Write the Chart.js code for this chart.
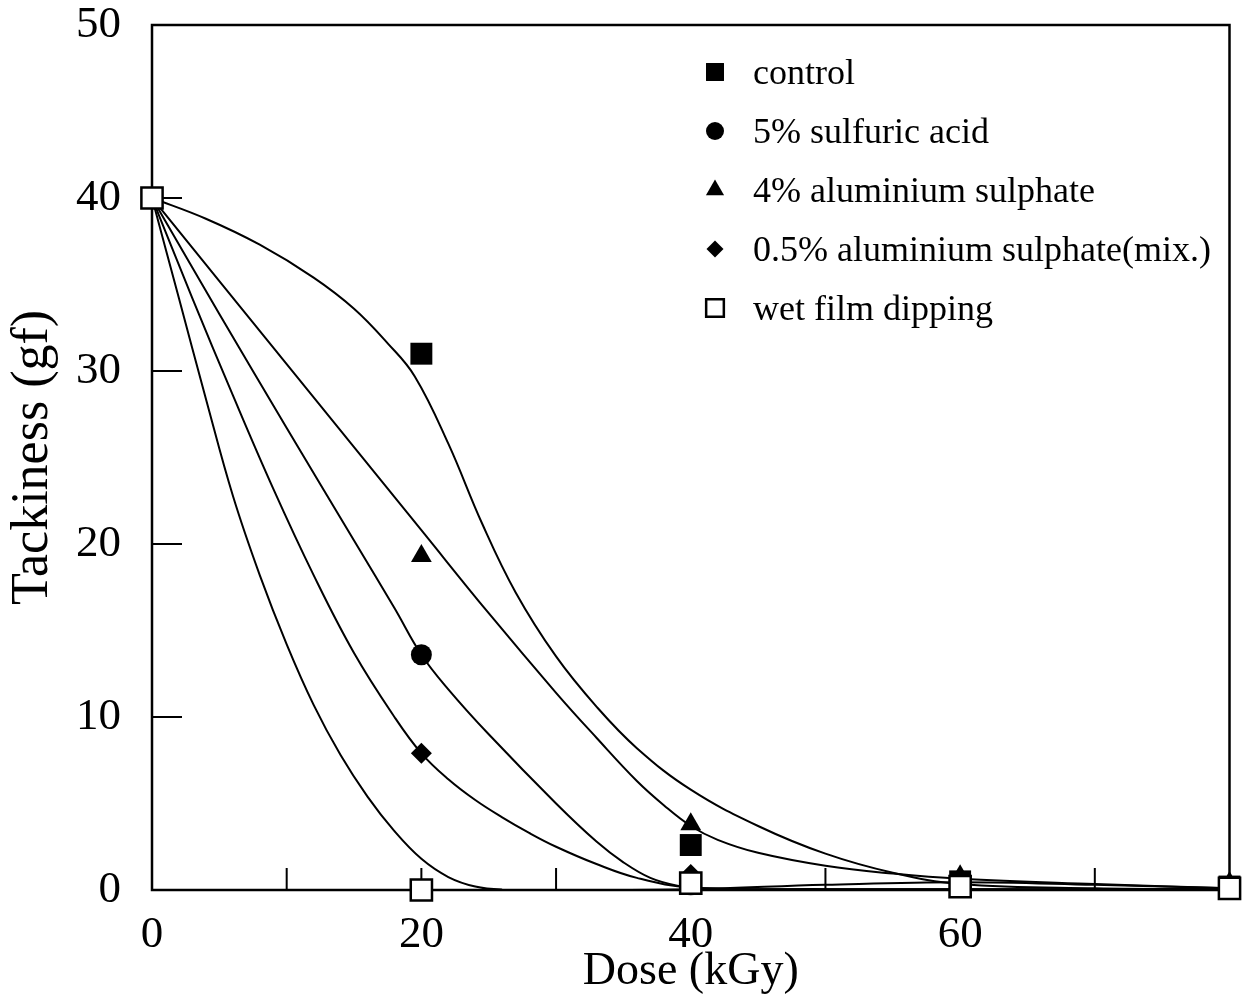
<!DOCTYPE html>
<html>
<head>
<meta charset="utf-8">
<title>Tackiness vs dose</title>
<script src="https://cdn.jsdelivr.net/npm/chart.js@4.4.1/dist/chart.umd.min.js"></script>
<style>
  html, body { margin: 0; padding: 0; background: #fff; }
  #wrap { width: 1247px; height: 1004px; }
</style>
</head>
<body>
<div id="wrap"><canvas id="chart"></canvas></div>
<script>
// --- data ---
const doses = [0, 20, 40, 60, 80];
const seriesNames = ['control', '5% sulfuric acid', '4% aluminium sulphate', '0.5% aluminium sulphate(mix.)', 'wet film dipping'];

const controlVals  = [40, 31.0, 2.6, 0.5, 0.2];
const sulfuricVals = [40, 13.6, 0.3, 0.2, 0.1];
const alum4Vals    = [40, 19.3, 3.8, 0.8, 0.4];
const alumMixVals  = [40, 7.9, 0.9, 0.4, 0.2];
const wetFilmVals  = [40, 0.0, 0.4, 0.2, 0.1];

// fitted curves (dose, tackiness), estimated along each drawn line
const fitControl  = [[0,40],[4,38.8],[8,37.3],[12,35.4],[15,33.6],[17.5,31.6],[19.5,29.7],[22,25.8],[24.5,21.2],[27,17.2],[30,13.5],[33,10.6],[36,8.2],[40,5.8],[45,3.7],[50,2.1],[55,1.0],[60,0.35],[70,0.1],[80,0.05]];
const fitAlum4    = [[0,40],[10,30.4],[20,20.8],[25,16.0],[30,11.4],[33,8.8],[36,6.3],[38,4.9],[40,3.7],[42,2.9],[45,2.15],[50,1.4],[55,0.95],[60,0.65],[70,0.35],[80,0.1]];
const fitSulfuric = [[0,40],[5,33.3],[10,26.7],[15,20.2],[18,16.3],[20,13.6],[22,11.6],[25,9.0],[30,5.0],[33,2.8],[35,1.6],[37,0.7],[39,0.25],[41,0.08],[45,0.05],[60,0.05],[80,0.05]];
const fitAlumMix  = [[0,40],[3,34.2],[6,28.6],[9,23.2],[12,18.2],[15,13.7],[18,10.0],[20,7.9],[22,6.4],[24,5.2],[26,4.2],[28,3.3],[30,2.5],[33,1.5],[36,0.7],[40,0.15],[50,0.05],[80,0.05]];
const fitWetFilm  = [[0,40],[2,34.2],[4,28.4],[6,22.8],[8,18.2],[10,14.2],[12,10.7],[14,7.8],[16,5.4],[18,3.4],[20,1.8],[22,0.75],[24,0.2],[26,0.02],[30,0],[40,0.05],[50,0.3],[60,0.45],[70,0.3],[80,0.1]];

const xInnerTicks = [10, 20, 30, 40, 50, 60, 70];
const yInnerTicks = [10, 20, 30, 40];

const FONT = "'Liberation Serif', 'Times New Roman', serif";

function toPoints(vals) {
    return doses.map((d, i) => ({ x: d, y: vals[i] }));
}
function toCurve(pairs) {
    return pairs.map(p => ({ x: p[0], y: p[1] }));
}

function curve(pairs) {
    return {
        data: toCurve(pairs),
        showLine: true,
        pointRadius: 0,
        borderColor: '#000',
        borderWidth: 2,
        tension: 0.4,
        order: 10
    };
}

// 実測点 (markers)
const markerSets = [
    { label: seriesNames[0], data: toPoints(controlVals),  pointStyle: 'rect',     pointRadius: 15.5, backgroundColor: '#000', borderWidth: 0, order: 4 },
    { label: seriesNames[1], data: toPoints(sulfuricVals), pointStyle: 'circle',   pointRadius: 10.5, backgroundColor: '#000', borderWidth: 0, order: 3 },
    { label: seriesNames[2], data: toPoints(alum4Vals),    pointStyle: 'triangle', pointRadius: 12,   backgroundColor: '#000', borderWidth: 0, order: 2 },
    { label: seriesNames[3], data: toPoints(alumMixVals),  pointStyle: 'rectRot',  pointRadius: 10.5, backgroundColor: '#000', borderWidth: 0, order: 1 },
    { label: seriesNames[4], data: toPoints(wetFilmVals),  pointStyle: 'rect',     pointRadius: 15,   backgroundColor: '#fff', borderColor: '#000', borderWidth: 2.5, order: 0 }
];
markerSets.forEach(ds => { ds.showLine = false; ds.clip = false; if (!ds.borderColor) ds.borderColor = '#000'; });

// box frame + inward ticks
const frameTicks = {
    id: 'frameTicks',
    beforeDatasetsDraw(chart) {
        const { ctx, chartArea: a, scales: { x, y } } = chart;
        ctx.save();
        ctx.strokeStyle = '#000';
        ctx.lineWidth = 2.5;
        ctx.strokeRect(a.left, a.top, a.right - a.left, a.bottom - a.top);
        ctx.lineWidth = 2;
        ctx.beginPath();
        xInnerTicks.forEach(v => {
            const px = x.getPixelForValue(v);
            ctx.moveTo(px, a.bottom);
            ctx.lineTo(px, a.bottom - 22);
        });
        yInnerTicks.forEach(v => {
            const py = y.getPixelForValue(v);
            ctx.moveTo(a.left, py);
            ctx.lineTo(a.left + 30, py);
        });
        ctx.stroke();
        ctx.restore();
    }
};

// legend drawn inside the plot (upper right)
const legendSizes = [12.7, 9, 10.5, 8.5, 12.5];
const boxLegend = {
    id: 'boxLegend',
    afterDraw(chart) {
        const ctx = chart.ctx;
        const mx = 715, tx = 753, y0 = 72, step = 59;
        ctx.save();
        markerSets.forEach((ds, i) => {
            const cy = y0 + i * step;
            ctx.fillStyle = ds.backgroundColor;
            ctx.strokeStyle = '#000';
            ctx.lineWidth = ds.borderWidth;
            Chart.helpers.drawPoint(ctx, { pointStyle: ds.pointStyle, radius: legendSizes[i], rotation: 0, borderWidth: ds.borderWidth }, mx, cy);
            ctx.fillStyle = '#000';
            ctx.font = '36px ' + FONT;
            ctx.textAlign = 'left';
            ctx.textBaseline = 'alphabetic';
            ctx.fillText(ds.label, tx, cy + 12);
        });
        ctx.restore();
    }
};

const chart = new Chart(document.getElementById('chart'), {
    type: 'scatter',
    data: {
        datasets: [
            curve(fitControl), curve(fitAlum4), curve(fitSulfuric), curve(fitAlumMix), curve(fitWetFilm)
        ].concat(markerSets)
    },
    options: {
        responsive: true,
        maintainAspectRatio: false,
        animation: false,
        events: [],
        layout: { padding: { top: 25, right: 9, left: 0, bottom: 0 } },
        plugins: { legend: { display: false }, tooltip: { enabled: false } },
        scales: {
            x: {
                type: 'linear', min: 0, max: 80,
                grid: { display: false, drawTicks: false },
                border: { display: false },
                ticks: {
                    stepSize: 20, padding: 18, color: '#000',
                    font: { family: FONT, size: 45, lineHeight: 1.2 },
                    callback: v => (v === 80 ? '' : v)
                },
                title: { display: true, text: 'Dose (kGy)', color: '#000', font: { family: FONT, size: 46 }, padding: { top: 0, bottom: 4 } },
                afterFit: s => { s.height = 114; s.paddingLeft = 0; s.paddingRight = 0; }
            },
            y: {
                type: 'linear', min: 0, max: 50,
                grid: { display: false, drawTicks: false },
                border: { display: false },
                ticks: { stepSize: 10, padding: 31, color: '#000', font: { family: FONT, size: 45, lineHeight: 1 } },
                title: { display: true, text: 'Tackiness (gf)', color: '#000', font: { family: FONT, size: 52 }, padding: { top: 2, bottom: 0 } },
                afterFit: s => { s.width = 152; s.paddingTop = 0; s.paddingBottom = 0; }
            }
        }
    },
    plugins: [frameTicks, boxLegend]
});
</script>
</body>
</html>
